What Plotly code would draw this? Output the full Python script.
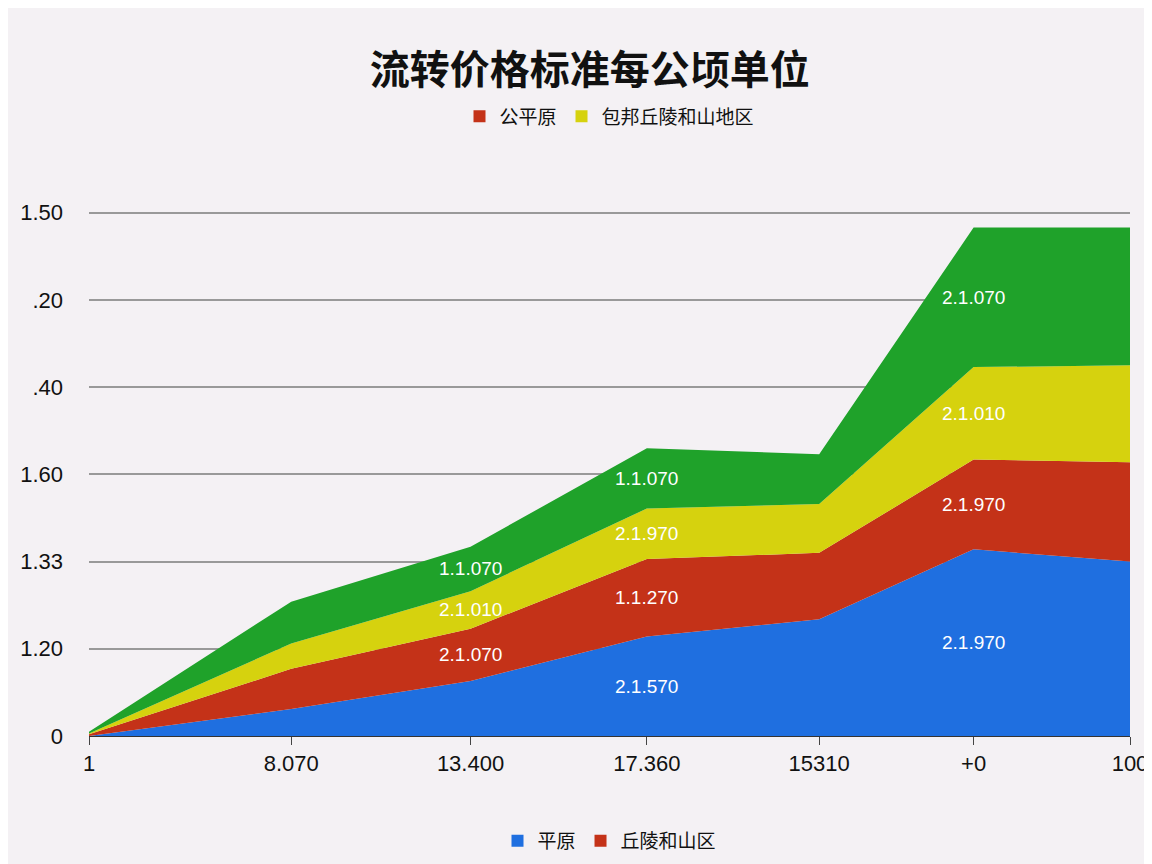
import plotly.graph_objects as go
import numpy as np

x = [0, 2.03, 3.83, 5.60, 7.33, 8.88, 10.45]
x_labels = ["1", "8.070", "13.400", "17.360", "15310", "+0", "100"]
y_ticks = [0, 1, 2, 3, 4, 5, 6]
y_labels = ["0", "1.20", "1.33", "1.60", ".40", ".20", "1.50"]

blue = [0.00, 0.31, 0.63, 1.14, 1.34, 2.14, 2.00]
red = [0.02, 0.46, 0.60, 0.89, 0.76, 1.03, 1.14]
yellow = [0.01, 0.29, 0.43, 0.58, 0.56, 1.06, 1.11]
green = [0.02, 0.48, 0.51, 0.69, 0.57, 1.60, 1.58]

lab_idx = [2, 3, 5]
blue_lab = ["", "2.1.570", "2.1.970"]
red_lab = ["2.1.070", "1.1.270", "2.1.970"]
yellow_lab = ["2.1.010", "2.1.970", "2.1.010"]
green_lab = ["1.1.070", "1.1.070", "2.1.070"]

colors = {"blue": "#1f6fe0", "red": "#c43218", "yellow": "#d6d20e", "green": "#1fa22a"}

fig = go.Figure()
for vals, c in [(blue, colors["blue"]), (red, colors["red"]),
                (yellow, colors["yellow"]), (green, colors["green"])]:
    fig.add_trace(go.Scatter(x=x, y=vals, stackgroup="one", mode="lines",
                             line=dict(width=0, color=c), fillcolor=c, showlegend=False))
for name, c, lg in [("公平原", colors["red"], "legend"), ("包邦丘陵和山地区", colors["yellow"], "legend"),
                    ("平原", colors["blue"], "legend2"), ("丘陵和山区", colors["red"], "legend2")]:
    fig.add_trace(go.Scatter(x=[None], y=[None], mode="markers",
                             marker=dict(symbol="square", size=12, color=c),
                             name=name, legend=lg))

cum = np.zeros(len(x))
for vals, labs in [(blue, blue_lab), (red, red_lab), (yellow, yellow_lab), (green, green_lab)]:
    base = cum.copy()
    cum = cum + np.array(vals)
    for i, t in zip(lab_idx, labs):
        if t:
            fig.add_annotation(x=x[i], y=(base[i] + cum[i]) / 2, text=t, showarrow=False,
                               font=dict(size=19, color="white", family="Liberation Sans"))

fig.update_layout(
    width=1152, height=864, paper_bgcolor="#f4f1f4", plot_bgcolor="#f4f1f4",
    margin=dict(l=78, r=27, t=203, b=134),
    title=dict(text="<b>流转价格标准每公顷单位</b>", x=0.505, y=0.945, xanchor="center",
               font=dict(size=40, color="#111", family="Noto Sans CJK SC")),
    font=dict(family="Noto Sans CJK SC", color="#111"),
    legend=dict(orientation="h", x=0.5, xanchor="center", y=1.18, yanchor="middle",
                font=dict(size=19), bgcolor="rgba(0,0,0,0)", traceorder="normal"),
    legend2=dict(orientation="h", x=0.5, xanchor="center", y=-0.2, yanchor="middle",
                 font=dict(size=19), bgcolor="rgba(0,0,0,0)", traceorder="normal"),
    xaxis=dict(range=[0, 10.45], tickvals=x, ticktext=x_labels, showgrid=False,
               showline=True, linecolor="#333", ticks="outside", ticklen=8,
               tickfont=dict(size=22, family="Liberation Sans"), zeroline=False),
    yaxis=dict(range=[0, 6.02], tickvals=y_ticks, ticktext=y_labels, gridcolor="#999",
               gridwidth=1.5, tickfont=dict(size=22, family="Liberation Sans"),
               zeroline=False, ticklabelstandoff=25),
)
fig.write_html("out.html")
